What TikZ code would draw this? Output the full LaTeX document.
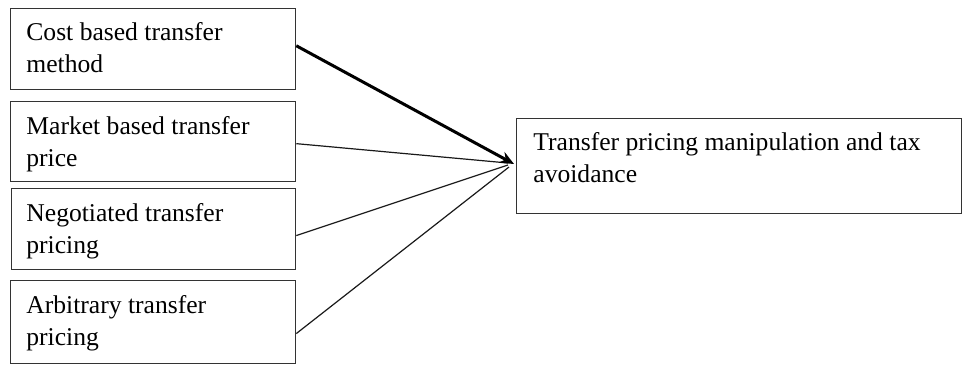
\documentclass[tikz,border=0pt]{standalone}
\usepackage{fontspec}
\setmainfont{Liberation Serif}
\usetikzlibrary{arrows.meta}
\begin{document}
\begin{tikzpicture}[x=0.5pt,y=-0.5pt,
  box/.style={draw=black!80, line width=0.65pt, anchor=north west, inner sep=0pt, minimum width=142.5pt},
  lbl/.style={anchor=base west, inner sep=0pt, align=left, font=\fontsize{12.8}{16}\selectfont},
  conn/.style={line width=0.6pt, draw=black!90},
  thick conn/.style={line width=1.5pt, draw=black, -{Stealth[length=7pt,width=6pt]}}]
\useasboundingbox (0,0) rectangle (963,370);
\node[box, minimum height=40.5pt] (b1) at (10,8) {};
\node[box, minimum height=40pt] (b2) at (10,101) {};
\node[box, minimum width=142pt, minimum height=40.5pt] (b3) at (11,188) {};
\node[box, minimum height=41.5pt] (b4) at (10,280) {};
\node[box, minimum width=222.5pt, minimum height=47.5pt] (t) at (516,118) {};
\node[lbl] (l1) at (26,72) {Cost based transfer\\method};
\node[lbl] (l2) at (26,166) {Market based transfer\\price};
\node[lbl] (l3) at (26,253) {Negotiated transfer\\pricing};
\node[lbl] (l4) at (26,345) {Arbitrary transfer\\pricing};
\node[lbl] (lt) at (533,182) {Transfer pricing manipulation and tax\\avoidance};
\coordinate (tip) at (514,164);
\coordinate (e2) at (508,163);
\coordinate (e3) at (508,165);
\coordinate (e4) at (509,167);
\draw[conn] ([yshift=-1pt]b2.east) -- (e2);
\draw[conn] ([yshift=-3.2pt]b3.east) -- (e3);
\draw[conn] ([yshift=-5.7pt]b4.east) -- (e4);
\draw[thick conn] ([yshift=1.7pt]b1.east) -- (tip);
\end{tikzpicture}
\end{document}
